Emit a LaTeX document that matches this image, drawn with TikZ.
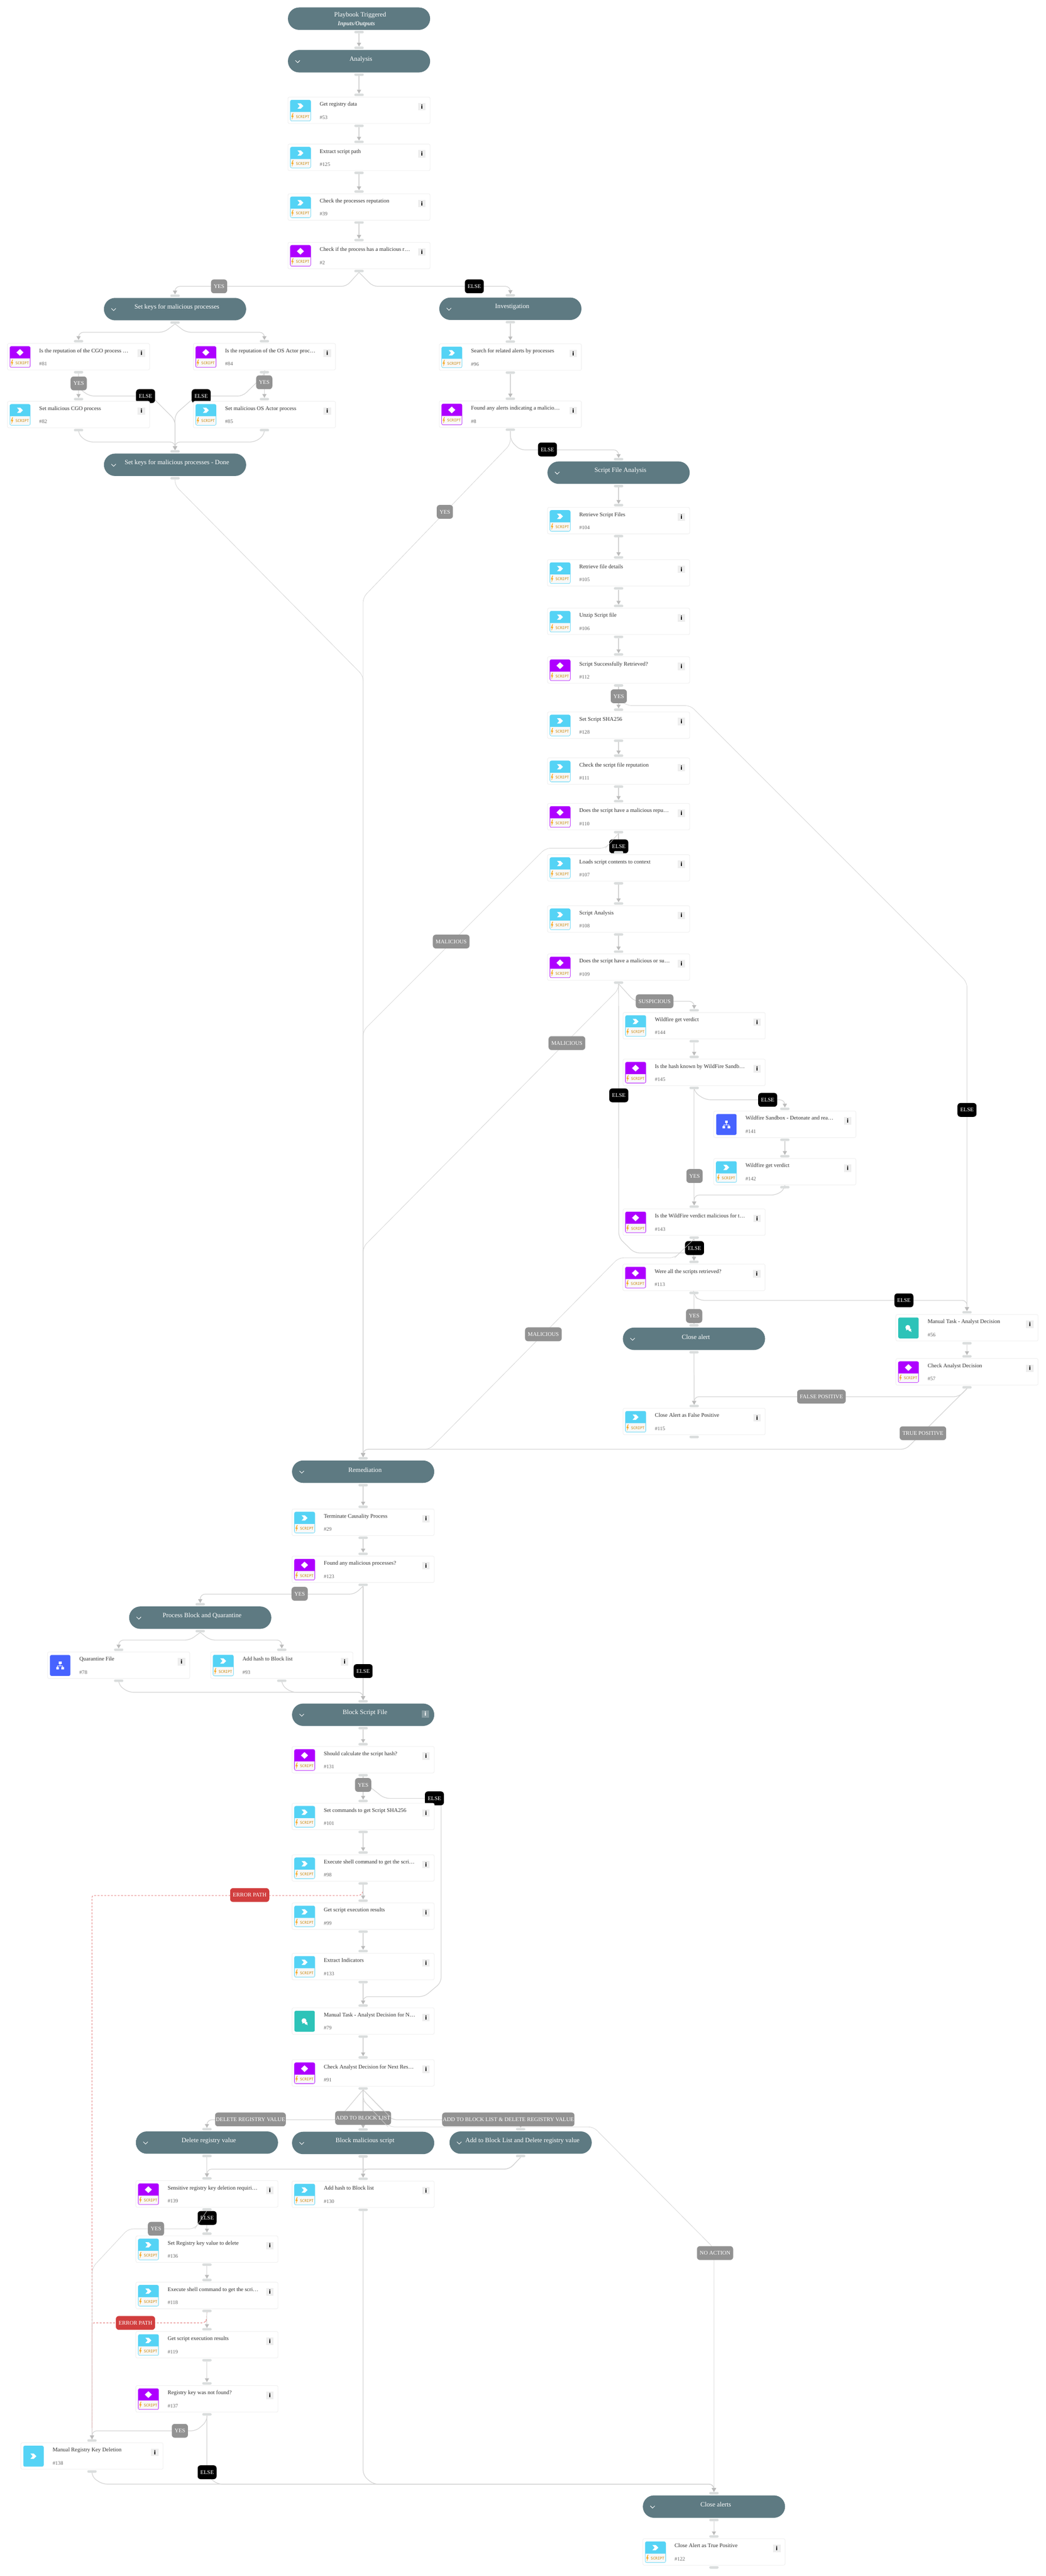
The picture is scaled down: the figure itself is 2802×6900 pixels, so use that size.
\documentclass[tikz,border=0pt]{standalone}
\usepackage{fontspec}
\setmainfont{Liberation Serif}
\newfontfamily\monof{DejaVu Sans Mono}
\newfontfamily\sansf{DejaVu Sans}
\usetikzlibrary{arrows.meta,backgrounds}
\definecolor{pillc}{HTML}{5E7A82}
\definecolor{boxb}{HTML}{F1F1F1}
\definecolor{portc}{HTML}{DADDDD}
\definecolor{linec}{HTML}{D4D4D4}
\definecolor{tipc}{HTML}{BBBBBB}
\definecolor{cyanc}{HTML}{55D3F5}
\definecolor{purplec}{HTML}{AE00FF}
\definecolor{bluec}{HTML}{4763FF}
\definecolor{tealc}{HTML}{2DC3B8}
\definecolor{bandc}{HTML}{F8F8F8}
\definecolor{boltc}{HTML}{F7A823}
\definecolor{scriptc}{HTML}{C98A12}
\definecolor{titlec}{HTML}{333333}
\definecolor{numc}{HTML}{666666}
\definecolor{labg}{HTML}{929292}
\definecolor{labr}{HTML}{D13E3E}
\definecolor{errc}{HTML}{E57F7F}
\definecolor{infoc}{HTML}{EEEEEE}
\tikzset{
 taskbox/.style={draw=boxb,line width=1.5pt,rounded corners=4pt,fill=white,minimum width=381pt,minimum height=71pt,inner sep=0pt},
 pillbox/.style={fill=pillc,rounded corners=29.9pt,minimum width=381pt,minimum height=60pt,inner sep=0pt},
 portbox/.style={fill=portc,rounded corners=3pt,minimum width=25pt,minimum height=6.5pt,inner sep=0pt},
 tasktitle/.style={anchor=base west,inner sep=0pt,text=titlec,font=\fontsize{15}{18}\selectfont},
 tasknum/.style={anchor=base west,inner sep=0pt,text=numc,font=\fontsize{14}{17}\selectfont},
 scripttxt/.style={inner sep=0pt,text=scriptc,font=\fontsize{10}{12}\monof},
 infobox/.style={fill=infoc,minimum size=20pt,inner sep=0pt,font=\fontsize{15}{15}\sansf\bfseries},
 pilltxt/.style={inner sep=0pt,text=white,font=\fontsize{17.5}{20}\selectfont},
 lab/.style={rounded corners=8pt,text=white,minimum height=37pt,inner ysep=0pt,inner xsep=7.5pt,font=\fontsize{15}{18}\selectfont},
 labgray/.style={lab,fill=labg},
 labblack/.style={lab,fill=black},
 labred/.style={lab,fill=labr},
 conn/.style={draw=linec,line width=1.7pt,rounded corners=13pt,-{Triangle[width=11pt,length=10pt,color=tipc,fill=tipc]}},
 fineconn/.style={conn,line width=1.1pt},
 overline/.style={draw=linec,line width=1pt},
 errline/.style={draw=errc,line width=1.4pt,dashed,dash pattern=on 5pt off 4pt,rounded corners=5pt},
}
% icon painters, drawn in a box-local frame
\newcommand{\IconBand}[2]{%
 \filldraw[draw=#1,fill=#1,line width=1pt,rounded corners=4pt] (6.5,8) rectangle (61,64);
 \fill[bandc] (7.2,40) -- (60.3,40) [rounded corners=3pt] -- (60.3,63.3) -- (7.2,63.3) [sharp corners] -- cycle;
 \fill[boltc] (13,43) -- (9,53) -- (12,53) -- (10.5,61) -- (15.5,50) -- (12.6,50) -- (14.8,43) -- cycle;
 \node[scripttxt] (#2-s) at (39.5,52.5) {SCRIPT};
}
\newcommand{\ChevShape}[2]{\fill[white] ({#1-8},{#2-7}) -- ({#1+1},{#2-7}) -- ({#1+8},#2) -- ({#1+1},{#2+7}) -- ({#1-8},{#2+7}) -- ({#1-2},#2) -- cycle;}
\newcommand{\IconAct}[1]{\IconBand{cyanc}{#1}\ChevShape{33.5}{24}}
\newcommand{\IconCond}[1]{\IconBand{purplec}{#1}\fill[white] (24,24) -- (33.5,15) -- (43,24) -- (33.5,33) -- cycle;}
\newcommand{\IconMan}[1]{\fill[cyanc,rounded corners=4pt] (6.5,8) rectangle (61,64);\ChevShape{33.5}{36}}
\newcommand{\IconSub}[1]{\fill[bluec,rounded corners=4pt] (6.5,8) rectangle (61,64);
 \fill[white] (30,26) rectangle (37.5,33);
 \draw[white,line width=1.4pt] (33.7,33) -- (33.7,37) (27,41) -- (27,37) -- (40.5,37) -- (40.5,41);
 \fill[white] (23.5,40) rectangle (30.5,46.5) (37,40) rectangle (44,46.5);}
\newcommand{\IconChat}[1]{\fill[tealc,rounded corners=4pt] (6.5,8) rectangle (61,64);
 \fill[white] (32,34.5) circle (6.5);
 \fill[white] (28.5,39) -- (27,42.5) -- (32,40.5) -- cycle;
 \fill[white] (37.5,41) circle (3.8);
 \fill[white] (38,44) -- (42,47) -- (40.5,42) -- cycle;}
% #1 name, #2 cx, #3 top, #4 icon painter, #5 title, #6 number
\newcommand{\Task}[6]{%
 \node[taskbox] (#1) at (#2,{#3+35.5}) {};
 \node[portbox] (#1-in) at (#2,{#3-6}) {};
 \node[portbox] (#1-out) at (#2,{#3+77}) {};
 \begin{scope}[shift={({#2-190.5},#3)}]
  #4{#1}
  \node[tasktitle] (#1-t) at (85,24) {#5};
  \node[tasknum] (#1-n) at (85,59) {\##6};
  \node[infobox] (#1-i) at (359,26) {i};
 \end{scope}
}
% #1 name, #2 cx, #3 top, #4 title
\newcommand{\Stage}[4]{%
 \node[pillbox] (#1) at (#2,{#3+30}) {};
 \node[portbox] (#1-in) at (#2,{#3-6}) {};
 \node[portbox] (#1-out) at (#2,{#3+66}) {};
 \node[pilltxt] (#1-t) at ({#2+5},{#3+25}) {#4};
 \draw[white,line width=1.3pt] ({#2-190.5+20},{#3+28}) -- ({#2-190.5+26},{#3+34}) -- ({#2-190.5+32},{#3+28});
}
\newcommand{\Lab}[5]{\node[#4] (#1) at (#2,#3) {#5};}
\newcommand{\Link}[2]{\draw[conn] (#1-out.south) -- (#2-in.north);}
\begin{document}
\begin{tikzpicture}[x=1pt,y=-1pt]
\useasboundingbox (0,0) rectangle (2802,6900);
% ---------- edge labels (under the boxes)
\Lab{lYes1}{587}{767}{labgray}{YES}
\Lab{lElse1}{1271}{767}{labblack}{ELSE}
\Lab{lYes2}{211}{1027}{labgray}{YES}
\Lab{lYes3}{708}{1024}{labgray}{YES}
\Lab{lElse2}{390}{1061}{labblack}{ELSE}
\Lab{lElse3}{539}{1061}{labblack}{ELSE}
\Lab{lElse4}{1467}{1204}{labblack}{ELSE}
\Lab{lYes4}{1192}{1371}{labgray}{YES}
\Lab{lYes5}{1658}{1865}{labgray}{YES}
\Lab{lElse5}{1658}{2267}{labblack}{ELSE}
\Lab{lMal1}{1209}{2522}{labgray}{MALICIOUS}
\Lab{lMal2}{1519}{2794}{labgray}{MALICIOUS}
\Lab{lSus}{1754}{2682}{labgray}{SUSPICIOUS}
\Lab{lElse6}{1658}{2934}{labblack}{ELSE}
\Lab{lElse7}{2057}{2946}{labblack}{ELSE}
\Lab{lElse8}{2591}{2973}{labblack}{ELSE}
\Lab{lYes6}{1861}{3150}{labgray}{YES}
\Lab{lElse9}{1861}{3343}{labblack}{ELSE}
\Lab{lElse10}{2422}{3483}{labblack}{ELSE}
\Lab{lYes7}{1860}{3525}{labgray}{YES}
\Lab{lMal3}{1456}{3574}{labgray}{MALICIOUS}
\Lab{lFp}{2201}{3741}{labgray}{FALSE POSITIVE}
\Lab{lTp}{2473}{3839}{labgray}{TRUE POSITIVE}
\Lab{lYes8}{803}{4269}{labgray}{YES}
\Lab{lElse11}{973}{4476}{labblack}{ELSE}
\Lab{lYes9}{973}{4781}{labgray}{YES}
\Lab{lElse12}{1164}{4817}{labblack}{ELSE}
\Lab{lErr1}{669}{5076}{labred}{ERROR PATH}
\Lab{lDel}{671}{5677}{labgray,inner xsep=2pt}{DELETE REGISTRY VALUE}
\Lab{lAdd}{973}{5673}{labgray,inner xsep=2pt}{ADD TO BLOCK LIST}
\Lab{lBoth}{1362}{5677}{labgray,inner xsep=2pt}{ADD TO BLOCK LIST \& DELETE REGISTRY VALUE}
\Lab{lNo}{1916}{6035}{labgray}{NO ACTION}
\Lab{lElse13}{555}{5941}{labblack}{ELSE}
\Lab{lYes10}{418}{5970}{labgray}{YES}
\Lab{lErr2}{363}{6222}{labred}{ERROR PATH}
\Lab{lYes11}{482}{6511}{labgray}{YES}
\Lab{lElse14}{555}{6622}{labblack}{ELSE}
% ---------- stages and tasks
\node[pillbox] (start) at (962,50) {};
\node[portbox] (start-out) at (962,86) {};
\node[pilltxt] (start-t) at (965,41) {Playbook Triggered};
\node[pilltxt,font=\fontsize{16}{18}\selectfont\bfseries\itshape,text=white!88!pillc] (start-s) at (955,65) {Inputs/Outputs};
\Stage{analysis}{962}{134}{Analysis}
\Task{n53}{962}{260}{\IconAct}{Get registry data}{53}
\Task{n125}{962}{386}{\IconAct}{Extract script path}{125}
\Task{n39}{962}{519}{\IconAct}{Check the processes reputation}{39}
\Task{n2}{962}{649}{\IconCond}{Check if the process has a malicious r…}{2}
\Stage{sk}{469}{798}{Set keys for malicious processes}
\Task{n81}{210.5}{920}{\IconCond}{Is the reputation of the CGO process …}{81}
\Task{n84}{708.5}{920}{\IconCond}{Is the reputation of the OS Actor proc…}{84}
\Task{n82}{210.5}{1075}{\IconAct}{Set malicious CGO process}{82}
\Task{n85}{708.5}{1075}{\IconAct}{Set malicious OS Actor process}{85}
\Stage{skd}{469}{1215}{Set keys for malicious processes - Done}
\Stage{inv}{1367.5}{797}{Investigation}
\Task{n96}{1367.5}{921}{\IconAct}{Search for related alerts by processes}{96}
\Task{n8}{1367.5}{1074}{\IconCond}{Found any alerts indicating a malicio…}{8}
\Stage{sfa}{1657.5}{1236}{Script File Analysis}
\Task{n104}{1657.5}{1359}{\IconAct}{Retrieve Script Files}{104}
\Task{n105}{1657.5}{1499}{\IconAct}{Retrieve file details}{105}
\Task{n106}{1657.5}{1629}{\IconAct}{Unzip Script file}{106}
\Task{n112}{1657.5}{1759}{\IconCond}{Script Successfully Retrieved?}{112}
\Task{n128}{1657.5}{1907}{\IconAct}{Set Script SHA256}{128}
\Task{n111}{1657.5}{2030}{\IconAct}{Check the script file reputation}{111}
\Task{n110}{1657.5}{2152}{\IconCond}{Does the script have a malicious repu…}{110}
\Task{n107}{1657.5}{2289}{\IconAct}{Loads script contents to context}{107}
\Task{n108}{1657.5}{2426}{\IconAct}{Script Analysis}{108}
\Task{n109}{1657.5}{2555}{\IconCond}{Does the script have a malicious or su…}{109}
\Task{n144}{1860}{2712}{\IconAct}{Wildfire get verdict}{144}
\Task{n145}{1860}{2837}{\IconCond}{Is the hash known by WildFire Sandb…}{145}
\Task{n141}{2103}{2976}{\IconSub}{Wildfire Sandbox - Detonate and rea…}{141}
\Task{n142}{2103}{3103}{\IconAct}{Wildfire get verdict}{142}
\Task{n143}{1860}{3238}{\IconCond}{Is the WildFire verdict malicious for t…}{143}
\Task{n113}{1859.5}{3386}{\IconCond}{Were all the scripts retrieved?}{113}
\Stage{closea}{1859.5}{3556}{Close alert}
\Task{n115}{1860}{3772}{\IconAct}{Close Alert as False Positive}{115}
\Task{n56}{2591}{3521}{\IconChat}{Manual Task - Analyst Decision}{56}
\Task{n57}{2591}{3639}{\IconCond}{Check Analyst Decision}{57}
\Stage{rem}{973}{3912}{Remediation}
\Task{n29}{973}{4042}{\IconAct}{Terminate Causality Process}{29}
\Task{n123}{973}{4168}{\IconCond}{Found any malicious processes?}{123}
\Stage{pbq}{536.5}{4303}{Process Block and Quarantine}
\Task{n78}{318}{4425}{\IconSub}{Quarantine File}{78}
\Task{n93}{755}{4425}{\IconAct}{Add hash to Block list}{93}
\Stage{bsf}{973}{4563}{Block Script File}
\node[fill=white!25!pillc,minimum size=19pt,inner sep=0pt,text=white,font=\fontsize{15}{15}\sansf\bfseries] (bsf-i) at (1140,4591) {i};
\Task{n131}{973}{4678}{\IconCond}{Should calculate the script hash?}{131}
\Task{n101}{973}{4830}{\IconAct}{Set commands to get Script SHA256}{101}
\Task{n98}{973}{4968}{\IconAct}{Execute shell command to get the scri…}{98}
\Task{n99}{973}{5097}{\IconAct}{Get script execution results}{99}
\Task{n133}{973}{5232}{\IconAct}{Extract Indicators}{133}
\Task{n79}{973}{5378}{\IconChat}{Manual Task - Analyst Decision for N…}{79}
\Task{n91}{973}{5517}{\IconCond}{Check Analyst Decision for Next Res…}{91}
\Stage{del}{554.5}{5709}{Delete registry value}
\Stage{blk}{973}{5710}{Block malicious script}
\Stage{abl}{1395}{5709}{Add to Block List and Delete registry value}
\Task{n139}{554.5}{5841}{\IconCond}{Sensitive registry key deletion requiri…}{139}
\Task{n130}{973}{5842}{\IconAct}{Add hash to Block list}{130}
\Task{n136}{554.5}{5989}{\IconAct}{Set Registry key value to delete}{136}
\Task{n118}{554.5}{6113}{\IconAct}{Execute shell command to get the scri…}{118}
\Task{n119}{554.5}{6245}{\IconAct}{Get script execution results}{119}
\Task{n137}{554.5}{6390}{\IconCond}{Registry key was not found?}{137}
\Task{n138}{246.5}{6543}{\IconMan}{Manual Registry Key Deletion}{138}
\Stage{ca}{1913}{6684}{Close alerts}
\Task{n122}{1913}{6800}{\IconAct}{Close Alert as True Positive}{122}
% ---------- connectors (behind everything)
\begin{scope}[on background layer]
 \fill[white] (0,0) rectangle (2802,6900);
 % error paths first: grey lines lie over them
 \draw[errline] (n98-out.south) -- (972,5070) -- (965,5077) -| (n138-in.north);
 \draw[errline] (n118-out.south) -- (553,6216) -- (546,6222) -| (n138-in.north);
 \Link{start}{analysis}\Link{analysis}{n53}\Link{n53}{n125}\Link{n125}{n39}\Link{n39}{n2}
 \draw[conn] (n2-out.south) -- (928,767) -| (sk-in.north);
 \draw[conn] (n2-out.south) -- (999,767) -| (inv-in.north);
 \draw[conn] (sk-out.south) -- (440,890) -| (n81-in.north);
 \draw[conn] (sk-out.south) -- (498,890) -| (n84-in.north);
 \Link{n81}{n82}\Link{n84}{n85}
 \draw[conn] (n81-out.south) -- (211,1040) -- (240,1061) -- (405,1061) -- (469,1125) -- (skd-in.north);
 \draw[conn] (n84-out.south) -- (708,1005) -- (650,1061) -- (525,1061) -- (469,1110) -- (skd-in.north);
 \draw[conn] (n82-out.south) -- (210.5,1165) -- (236,1184) -| (skd-in.north);
 \draw[conn] (n85-out.south) -- (708.5,1165) -- (683,1184) -| (skd-in.north);
 \draw[fineconn] (skd-out.south) -- (469,1300) -- (973,1810) -- (rem-in.north);
 \Link{inv}{n96}\Link{n96}{n8}
 \draw[fineconn] (n8-out.south) -- (1367.5,1190) -- (973,1600) -- (rem-in.north);
 \draw[conn] (n8-out.south) -- (1368,1180) -- (1393,1205) -| (sfa-in.north);
 \Link{sfa}{n104}\Link{n104}{n105}\Link{n105}{n106}\Link{n106}{n112}\Link{n112}{n128}\Link{n128}{n111}\Link{n111}{n110}\Link{n110}{n107}\Link{n107}{n108}\Link{n108}{n109}
 \draw[fineconn] (n112-out.south) -- (1658,1872) -- (1680,1890) -- (1850,1890) -- (2591,2631) -- (n56-in.north);
 \draw[fineconn] (n110-out.south) -- (1622,2272) -- (1462,2272) -- (973,2761) -- (rem-in.north);
 \draw[fineconn] (n109-out.south) -- (1657.5,2650) -- (973,3340) -- (rem-in.north);
 \draw[conn] (n109-out.south) -- (1700,2682) -| (n144-in.north);
 \draw[conn] (n109-out.south) -- (1658,3315) -- (1700,3356) -| (n113-in.north);
 \Link{n144}{n145}\Link{n145}{n143}\Link{n141}{n142}\Link{n143}{n113}
 \draw[conn] (n145-out.south) -- (1862,2927) -- (1891,2946) -| (n141-in.north);
 \draw[conn] (n142-out.south) -- (2103,3185) -- (2080,3201) -| (n143-in.north);
 \draw[fineconn] (n143-out.south) -- (1808,3369) -- (1658,3369) -- (1151,3882) -| (rem-in.north);
 \Link{n113}{closea}\Link{closea}{n115}\Link{n56}{n57}
 \draw[conn] (n113-out.south) -- (1860,3470) -- (1873,3483) -| (n56-in.north);
 \draw[conn] (n57-out.south) -- (2570,3741) -| (n115-in.north);
 \draw[conn] (n57-out.south) -- (2427,3882) -| (rem-in.north);
 \Link{rem}{n29}\Link{n29}{n123}
 \draw[conn] (n123-out.south) -- (950,4270) -| (pbq-in.north);
 \Link{n123}{bsf}
 \draw[conn] (pbq-out.south) -- (509,4393) -| (n78-in.north);
 \draw[conn] (pbq-out.south) -- (563,4393) -| (n93-in.north);
 \draw[conn] (n78-out.south) -- (318,4514) -- (345,4533) -| (bsf-in.north);
 \draw[conn] (n93-out.south) -- (755,4514) -- (781,4533) -| (bsf-in.north);
 \Link{bsf}{n131}\Link{n131}{n101}\Link{n101}{n98}\Link{n98}{n99}\Link{n99}{n133}\Link{n133}{n79}\Link{n79}{n91}
 \draw[conn] (n131-out.south) -- (973,4772) -- (1030,4817) -- (1182,4817) -- (1182,5310) -- (1137,5348) -| (n79-in.north);
 \draw[conn] (n91-out.south) -- (905,5678) -| (del-in.north);
 \Link{n91}{blk}
 \draw[conn] (n91-out.south) -- (1050,5678) -| (abl-in.north);
 \draw[fineconn] (n91-out.south) -- (973,5626) -- (1044,5697) -- (1590,5697) -- (1913,6022) -- (ca-in.north);
 \Link{del}{n139}\Link{blk}{n130}
 \draw[conn] (abl-out.south) -- (1365,5810) -| (n130-in.north);
 \draw[conn] (abl-out.south) -- (1365,5810) -| (n139-in.north);
 \Link{n139}{n136}\Link{n136}{n118}\Link{n118}{n119}\Link{n119}{n137}
 \draw[fineconn] (n139-out.south) -- (522,5970) -- (344,5970) -- (247,6074) -- (n138-in.north);
 \draw[conn] (n137-out.south) -- (554.5,6485) -- (526,6511) -| (n138-in.north);
 \draw[conn] (n137-out.south) -- (554.5,6630) -- (582,6654) -| (ca-in.north);
 \draw[conn] (n138-out.south) -- (246.5,6635) -- (275,6654) -| (ca-in.north);
 \draw[conn] (n130-out.south) -- (973,6630) -- (1000,6654) -| (ca-in.north);
 \Link{ca}{n122}
\end{scope}
% ---------- strokes that the reference shows lying over a label
\draw[overline] (n110-out.south) -- (1622,2272);
\draw[overline] (n143-out.south) -- (1808,3369);
\draw[overline] (n139-out.south) -- (522,5970);
\draw[overline] (n91-out.south) -- (1044,5669);
\draw[overline] (973,5626) -- (1040,5697);
\end{tikzpicture}
\end{document}
